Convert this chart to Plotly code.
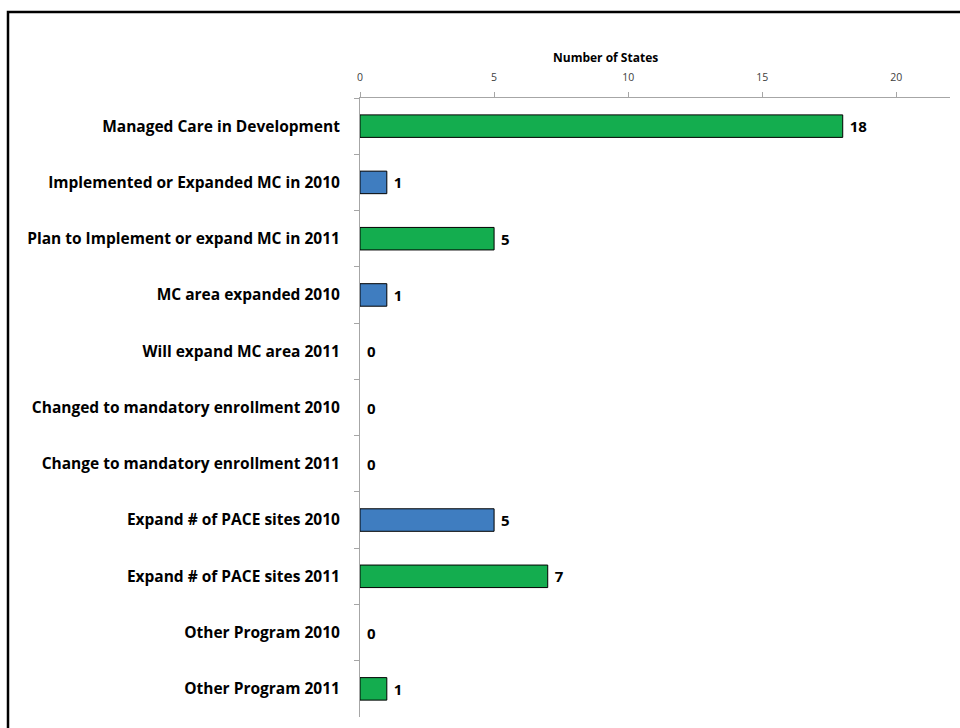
import plotly.graph_objects as go

categories = [
    "Managed Care in Development",
    "Implemented or Expanded MC in 2010",
    "Plan to Implement or expand MC in 2011",
    "MC area expanded 2010",
    "Will expand MC area 2011",
    "Changed to mandatory enrollment 2010",
    "Change to mandatory enrollment 2011",
    "Expand # of PACE sites 2010",
    "Expand # of PACE sites 2011",
    "Other Program 2010",
    "Other Program 2011",
]
values = [18, 1, 5, 1, 0, 0, 0, 5, 7, 0, 1]
years = ["dev", "2010", "2011", "2010", "2011", "2010", "2011", "2010", "2011", "2010", "2011"]
x_ticks = [0, 5, 10, 15, 20]

GREEN = "#14AD4F"
BLUE = "#3F7DC0"
colors = [BLUE if y == "2010" else GREEN for y in years]
line_widths = [1 if v > 0 else 0 for v in values]

FONT = "Open Sans, Liberation Sans, Arial, sans-serif"

fig = go.Figure(
    go.Bar(
        x=values,
        y=categories,
        orientation="h",
        marker=dict(color=colors, line=dict(color="#000000", width=line_widths)),
        text=["\u00a0" + str(v) for v in values],
        textposition="outside",
        textfont=dict(family=FONT, size=15, color="#000000", weight="bold"),
        cliponaxis=False,
        hoverinfo="skip",
    )
)

fig.update_layout(
    width=960,
    height=728,
    margin=dict(l=360, r=10, t=98, b=11),
    paper_bgcolor="white",
    plot_bgcolor="white",
    bargap=0.6,
    showlegend=False,
    font=dict(family=FONT),
    xaxis=dict(
        side="top",
        range=[0, 22],
        tickvals=x_ticks,
        ticks="outside",
        ticklen=5,
        tickcolor="#A6A6A6",
        showline=True,
        linecolor="#A6A6A6",
        linewidth=1,
        showgrid=False,
        zeroline=False,
        ticklabelstandoff=7,
        tickfont=dict(family=FONT, size=10.5, color="#404040"),
    ),
    yaxis=dict(
        autorange="reversed",
        ticks="outside",
        tickson="boundaries",
        ticklen=5,
        tickcolor="#A6A6A6",
        showline=True,
        linecolor="#A6A6A6",
        linewidth=1,
        showgrid=False,
        zeroline=False,
        ticklabelstandoff=16,
        tickfont=dict(family=FONT, size=15.5, color="#000000", weight="bold"),
    ),
    annotations=[
        dict(
            text="Number of States",
            xref="paper", yref="paper",
            x=(551 - 360) / 590, y=1 + (98 - 57) / 619,
            xanchor="left", yanchor="middle",
            showarrow=False,
            font=dict(family=FONT, size=12, color="#000000", weight="bold"),
        )
    ],
    shapes=[
        dict(
            type="rect", xref="paper", yref="paper",
            x0=(8 - 360) / 590, x1=1.2,
            y0=-0.2, y1=(717 - 12) / 619,
            line=dict(color="#000000", width=2.5),
            fillcolor="rgba(0,0,0,0)",
            layer="below",
        )
    ],
)

fig.write_html(
    "out.html",
    config={"displayModeBar": False},
    post_script="document.body.style.margin='0';document.body.style.overflow='hidden';",
)
